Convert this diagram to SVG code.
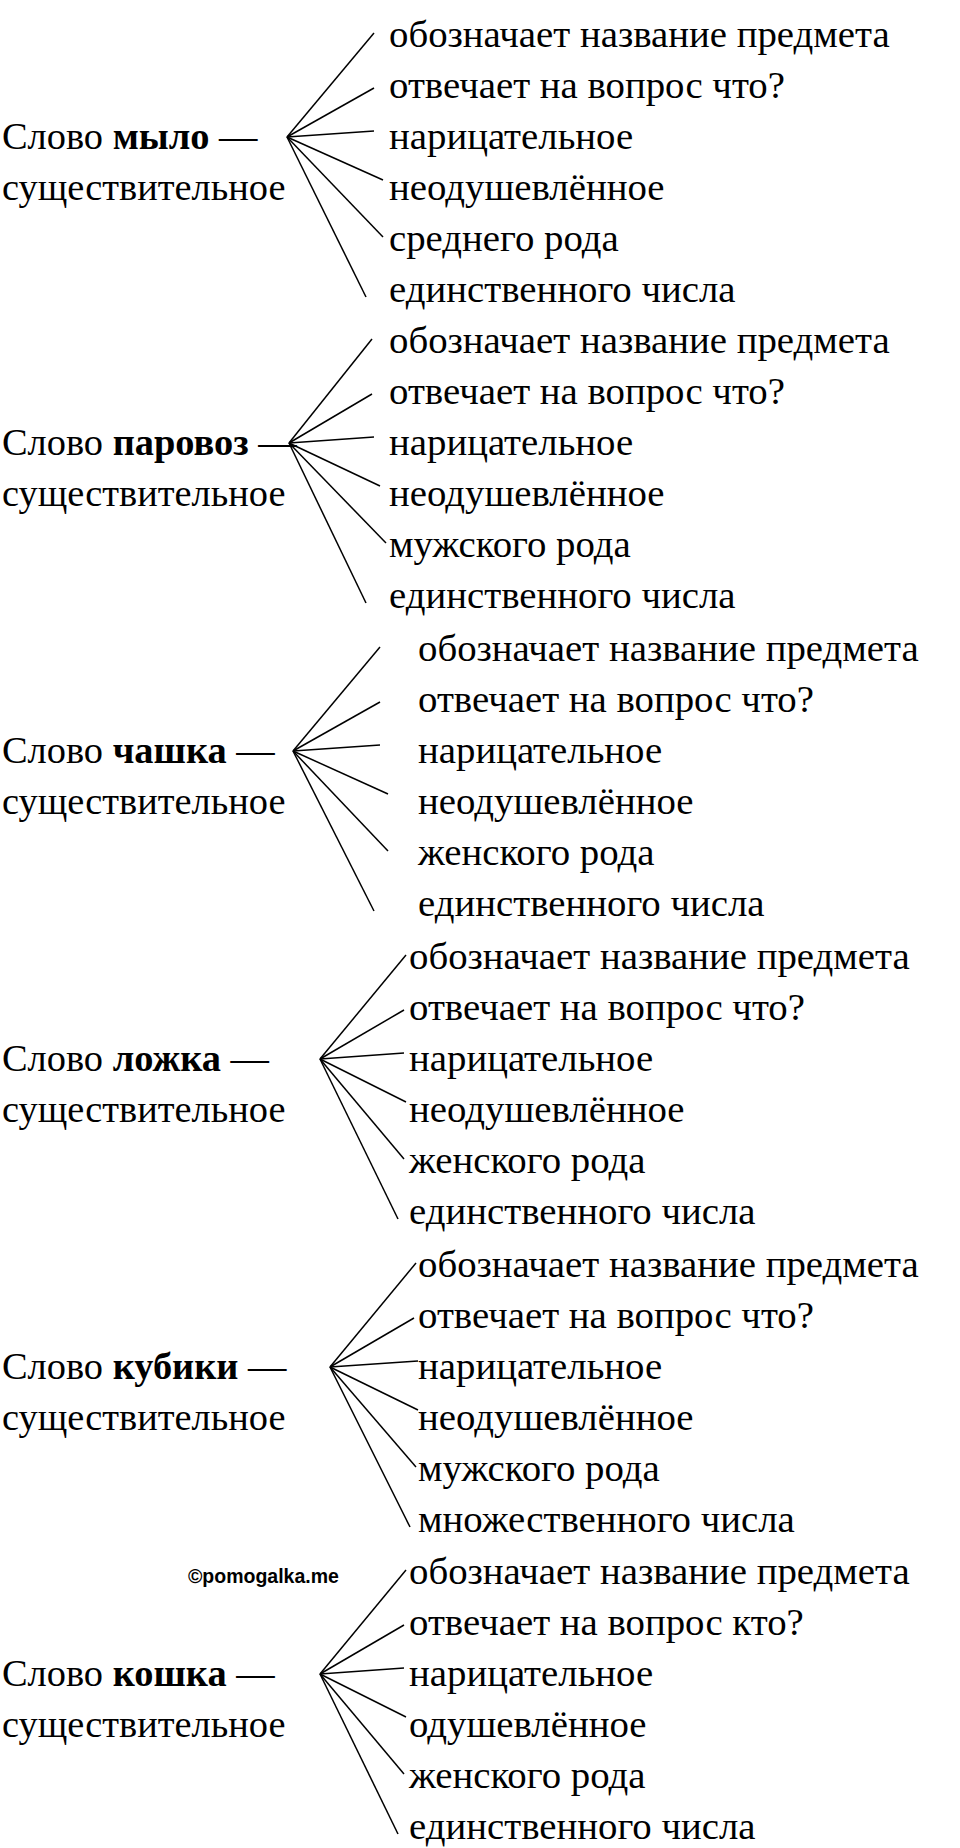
<svg xmlns="http://www.w3.org/2000/svg" width="960" height="1848" viewBox="0 0 960 1848">
<style>
text{font-family:"Liberation Serif","Times New Roman",serif;font-size:38.8px;fill:#000}
.l{font-size:38.4px}
.b{font-weight:bold}
.wm{font-family:"Liberation Sans",Arial,sans-serif;font-size:19.5px;font-weight:bold}
line{stroke:#000;stroke-width:1.5}
</style>
<rect width="960" height="1848" fill="#fff"/>
<g id="connectors">
<g transform="translate(0,0)"><line x1="287" y1="137" x2="374" y2="33"/><line x1="287" y1="137" x2="374" y2="88"/><line x1="287" y1="137" x2="374" y2="131"/><line x1="287" y1="137" x2="383" y2="180"/><line x1="287" y1="137" x2="383" y2="237"/><line x1="287" y1="137" x2="366" y2="297"/></g>
<g transform="translate(0,306)"><line x1="289" y1="137" x2="372" y2="33"/><line x1="289" y1="137" x2="372" y2="88"/><line x1="289" y1="137" x2="374" y2="131"/><line x1="289" y1="137" x2="380" y2="180"/><line x1="289" y1="137" x2="386" y2="237"/><line x1="289" y1="137" x2="366" y2="297"/></g>
<g transform="translate(0,614)"><line x1="293" y1="137" x2="380" y2="33"/><line x1="293" y1="137" x2="380" y2="88"/><line x1="293" y1="137" x2="380" y2="131"/><line x1="293" y1="137" x2="388" y2="180"/><line x1="293" y1="137" x2="388" y2="237"/><line x1="293" y1="137" x2="374" y2="297"/></g>
<g transform="translate(0,922)"><line x1="320" y1="137" x2="406" y2="33"/><line x1="320" y1="137" x2="404" y2="88"/><line x1="320" y1="137" x2="404" y2="131"/><line x1="320" y1="137" x2="406" y2="180"/><line x1="320" y1="137" x2="404" y2="237"/><line x1="320" y1="137" x2="398" y2="297"/></g>
<g transform="translate(0,1230)"><line x1="330" y1="137" x2="416" y2="33"/><line x1="330" y1="137" x2="414" y2="88"/><line x1="330" y1="137" x2="418" y2="131"/><line x1="330" y1="137" x2="418" y2="180"/><line x1="330" y1="137" x2="416" y2="237"/><line x1="330" y1="137" x2="410" y2="297"/></g>
<g transform="translate(0,1537)"><line x1="320" y1="137" x2="406" y2="33"/><line x1="320" y1="137" x2="404" y2="88"/><line x1="320" y1="137" x2="404" y2="131"/><line x1="320" y1="137" x2="406" y2="180"/><line x1="320" y1="137" x2="404" y2="237"/><line x1="320" y1="137" x2="398" y2="297"/></g>
</g>
<g id="node1"><text class="l" x="2" y="149">Слово <tspan class="b">мыло</tspan> —</text><text class="l" x="2" y="200">существительное</text>
<text x="389" y="47">обозначает название предмета</text><text x="389" y="98">отвечает на вопрос что?</text><text x="389" y="149">нарицательное</text><text x="389" y="200">неодушевлённое</text><text x="389" y="251">среднего рода</text><text x="389" y="302">единственного числа</text></g>
<g id="node2" transform="translate(0,306)"><text class="l" x="2" y="149">Слово <tspan class="b">паровоз</tspan> —</text><text class="l" x="2" y="200">существительное</text>
<text x="389" y="47">обозначает название предмета</text><text x="389" y="98">отвечает на вопрос что?</text><text x="389" y="149">нарицательное</text><text x="389" y="200">неодушевлённое</text><text x="389" y="251">мужского рода</text><text x="389" y="302">единственного числа</text></g>
<g id="node3" transform="translate(0,614)"><text class="l" x="2" y="149">Слово <tspan class="b">чашка</tspan> —</text><text class="l" x="2" y="200">существительное</text>
<text x="418" y="47">обозначает название предмета</text><text x="418" y="98">отвечает на вопрос что?</text><text x="418" y="149">нарицательное</text><text x="418" y="200">неодушевлённое</text><text x="418" y="251">женского рода</text><text x="418" y="302">единственного числа</text></g>
<g id="node4" transform="translate(0,922)"><text class="l" x="2" y="149">Слово <tspan class="b">ложка</tspan> —</text><text class="l" x="2" y="200">существительное</text>
<text x="409" y="47">обозначает название предмета</text><text x="409" y="98">отвечает на вопрос что?</text><text x="409" y="149">нарицательное</text><text x="409" y="200">неодушевлённое</text><text x="409" y="251">женского рода</text><text x="409" y="302">единственного числа</text></g>
<g id="node5" transform="translate(0,1230)"><text class="l" x="2" y="149">Слово <tspan class="b">кубики</tspan> —</text><text class="l" x="2" y="200">существительное</text>
<text x="418" y="47">обозначает название предмета</text><text x="418" y="98">отвечает на вопрос что?</text><text x="418" y="149">нарицательное</text><text x="418" y="200">неодушевлённое</text><text x="418" y="251">мужского рода</text><text x="418" y="302">множественного числа</text></g>
<g id="node6" transform="translate(0,1537)"><text class="l" x="2" y="149">Слово <tspan class="b">кошка</tspan> —</text><text class="l" x="2" y="200">существительное</text>
<text x="409" y="47">обозначает название предмета</text><text x="409" y="98">отвечает на вопрос кто?</text><text x="409" y="149">нарицательное</text><text x="409" y="200">одушевлённое</text><text x="409" y="251">женского рода</text><text x="409" y="302">единственного числа</text></g>
<text class="wm" x="188" y="1583">©pomogalka.me</text>
</svg>
